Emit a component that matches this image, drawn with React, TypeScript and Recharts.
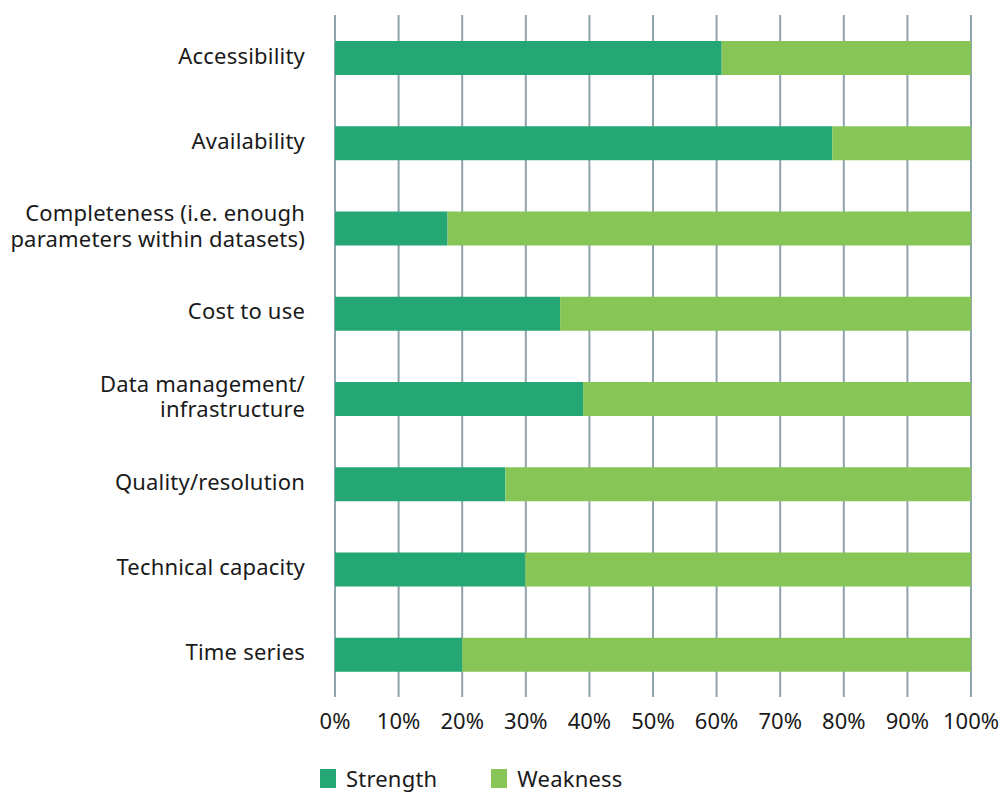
import React from "react";
import { BarChart, Bar, XAxis, YAxis, CartesianGrid } from "recharts";

// Share of respondents rating each data aspect as a strength or a weakness (%)
const categories = [
  "Accessibility",
  "Availability",
  "Completeness (i.e. enough\nparameters within datasets)",
  "Cost to use",
  "Data management/\ninfrastructure",
  "Quality/resolution",
  "Technical capacity",
  "Time series",
];
const strength = [60.8, 78.2, 17.7, 35.4, 39.0, 26.8, 29.9, 20.0];
const weakness = [39.2, 21.8, 82.3, 64.6, 61.0, 73.2, 70.1, 80.0];
const xTicks = [0, 10, 20, 30, 40, 50, 60, 70, 80, 90, 100];

const series = [
  { key: "strength", label: "Strength", color: "#25a775" },
  { key: "weakness", label: "Weakness", color: "#88c557" },
];

const data = categories.map((name, i) => ({
  name,
  strength: strength[i],
  weakness: weakness[i],
}));

const FONT = "'Noto Sans', 'Open Sans', sans-serif";
const TEXT = "#1a1a1a";
const FS = 22;
const LS = 0.2;

const CategoryTick = (props: any) => {
  const { x, y, payload } = props;
  const lines: string[] = String(payload.value).split("\n");
  const lh = 25.5;
  const start = -((lines.length - 1) * lh) / 2;
  return (
    <text
      x={x}
      y={y}
      textAnchor="end"
      fill={TEXT}
      fontSize={FS}
      letterSpacing={LS}
      fontFamily={FONT}
    >
      {lines.map((l, i) => (
        <tspan key={i} x={x} dy={i === 0 ? start + 6 : lh}>
          {l}
        </tspan>
      ))}
    </text>
  );
};

export default function App() {
  return (
    <div
      style={{
        position: "absolute",
        left: 0,
        top: 0,
        width: 1005,
        height: 793,
        background: "#fff",
      }}
    >
      <BarChart
        width={1005}
        height={793}
        data={data}
        layout="vertical"
        margin={{ top: 15, right: 34, bottom: 66, left: 0 }}
        barSize={34}
      >
        <CartesianGrid horizontal={false} stroke="#8fa3ad" strokeWidth={2} />
        <XAxis
          type="number"
          domain={[0, 100]}
          ticks={xTicks}
          tickFormatter={(v: number) => `${v}%`}
          axisLine={false}
          tickLine={false}
          tickMargin={10}
          interval={0}
          tick={{ fill: TEXT, fontSize: FS, fontFamily: FONT }}
        />
        <YAxis
          type="category"
          dataKey="name"
          width={335}
          axisLine={false}
          tickLine={false}
          tickMargin={24}
          interval={0}
          tick={<CategoryTick />}
        />
        {series.map((s) => (
          <Bar
            key={s.key}
            dataKey={s.key}
            stackId="a"
            fill={s.color}
            isAnimationActive={false}
          />
        ))}
      </BarChart>
      <div
        style={{
          position: "absolute",
          left: 320,
          top: 763,
          display: "flex",
          alignItems: "center",
          fontFamily: FONT,
          fontSize: FS,
          letterSpacing: LS,
          color: TEXT,
        }}
      >
        {series.map((s) => (
          <div
            key={s.key}
            style={{ display: "flex", alignItems: "center", marginRight: 54 }}
          >
            <span
              style={{
                display: "inline-block",
                width: 16,
                height: 19,
                background: s.color,
                marginRight: 10,
              }}
            />
            <span>{s.label}</span>
          </div>
        ))}
      </div>
    </div>
  );
}
